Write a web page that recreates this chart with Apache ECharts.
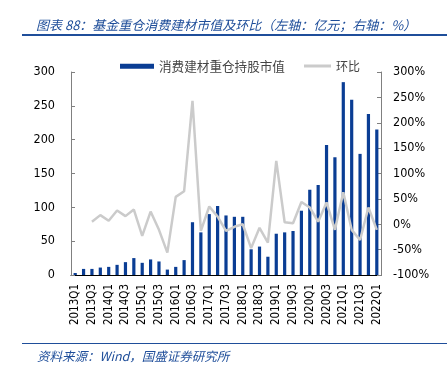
<!DOCTYPE html>
<html>
<head>
<meta charset="utf-8">
<script src="https://cdn.jsdelivr.net/npm/echarts@6/dist/echarts.min.js"></script>
<style>
html,body{margin:0;padding:0;background:#fff;}
#c{width:447px;height:374px;}
</style>
</head>
<body>
<div id="c"></div>
<script>
var categories = ['2013Q1','2013Q2','2013Q3','2013Q4','2014Q1','2014Q2','2014Q3','2014Q4','2015Q1','2015Q2','2015Q3','2015Q4','2016Q1','2016Q2','2016Q3','2016Q4','2017Q1','2017Q2','2017Q3','2017Q4','2018Q1','2018Q2','2018Q3','2018Q4','2019Q1','2019Q2','2019Q3','2019Q4','2020Q1','2020Q2','2020Q3','2020Q4','2021Q1','2021Q2','2021Q3','2021Q4','2022Q1'];
var marketValue = [3,9,9,11,12,15,19,25,18,23,20,8,12,22,78,63,90,102,88,86,86,38,42,27,61,63,65,95,126,133,192,174,285,259,179,238,215];
var qoq = [null,null,5,18,7,27,16,29,-23,25,-11,-56,54,65,243,-13,35,15,-13,-5,0,-47,-7,-36,125,4,2,44,33,5,43,-11,63,-11,-31,33,-11];

var chart = echarts.init(document.getElementById('c'), null, {renderer:'canvas'});
var blue = '#0a3d94';
var titleBlue = '#1f4e9a';
var grey = '#cbcbcb';
var axisFont = '"DejaVu Sans Condensed", "DejaVu Sans", sans-serif';
chart.setOption({
  animation:false,
  backgroundColor:'#fff',
  title:[{
    text:'图表 88：基金重仓消费建材市值及环比（左轴：亿元；右轴：%）',
    left:31, top:14,
    textStyle:{fontSize:13, fontStyle:'italic', fontWeight:'normal', color:titleBlue, fontFamily:'Noto Sans CJK SC'}
  },{
    text:'资料来源：Wind，国盛证券研究所',
    left:32, top:345,
    textStyle:{fontSize:12.5, fontStyle:'italic', fontWeight:'normal', color:titleBlue, fontFamily:'Noto Sans CJK SC'}
  }],
  graphic:[
    {type:'rect', shape:{x:22,y:34,width:425,height:2}, style:{fill:titleBlue}},
    {type:'rect', shape:{x:22,y:343,width:425,height:1}, style:{fill:titleBlue}}
  ],
  legend:[{
    top:55, left:115,
    itemWidth:34, itemHeight:5,
    textStyle:{fontSize:12.6, color:'#444', fontFamily:'Noto Sans CJK SC'},
    data:[{name:'消费建材重仓持股市值', icon:'rect'}]
  },{
    top:55, left:299,
    itemWidth:27, itemHeight:3,
    textStyle:{fontSize:12, color:'#444', fontFamily:'Noto Sans CJK SC'},
    data:[{name:'环比', icon:'rect', itemStyle:{color:grey}}]
  }],
  grid:{left:71, right:66, top:72, bottom:99},
  xAxis:{
    type:'category',
    data:categories,
    axisLine:{lineStyle:{color:'#000', width:1}},
    axisTick:{inside:true, length:4, lineStyle:{color:'#444'}},
    axisLabel:{rotate:90, interval:1, fontSize:11.5, color:'#000', fontFamily:axisFont, margin:9}
  },
  yAxis:[{
    type:'value', min:0, max:300, interval:50,
    axisLine:{show:true, lineStyle:{color:'#808080'}},
    axisTick:{show:true, inside:true, length:4, lineStyle:{color:'#808080'}},
    splitLine:{show:false},
    axisLabel:{fontSize:12.5, color:'#000', fontFamily:axisFont, margin:16}
  },{
    type:'value', min:-100, max:300, interval:50,
    axisLine:{show:true, lineStyle:{color:'#808080'}},
    axisTick:{show:true, inside:true, length:4, lineStyle:{color:'#808080'}},
    splitLine:{show:false},
    axisLabel:{fontSize:12.5, color:'#000', fontFamily:axisFont, margin:12, formatter:'{value}%'}
  }],
  series:[{
    name:'消费建材重仓持股市值',
    type:'bar',
    data:marketValue,
    barWidth:3.2,
    itemStyle:{color:blue}
  },{
    name:'环比',
    type:'line',
    yAxisIndex:1,
    data:qoq,
    symbol:'none',
    lineStyle:{color:grey, width:2.5},
    itemStyle:{color:grey},
    connectNulls:false
  }]
});
</script>
</body>
</html>
